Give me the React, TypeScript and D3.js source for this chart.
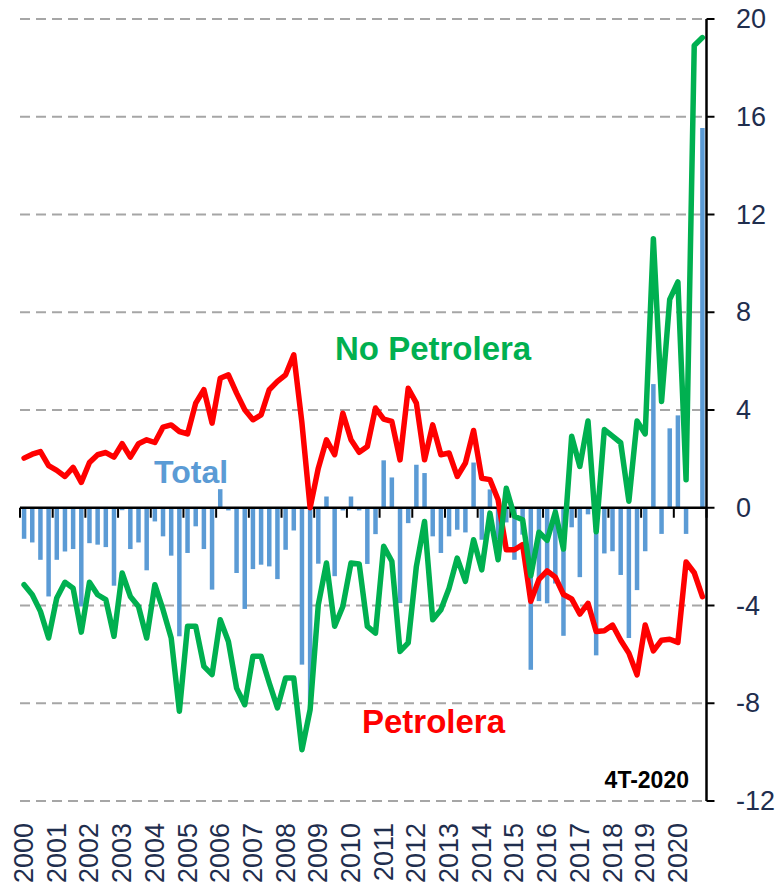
import React from "react";
import * as d3 from "d3";

const years = ["2000","2001","2002","2003","2004","2005","2006","2007","2008","2009","2010","2011","2012","2013","2014","2015","2016","2017","2018","2019","2020"];
const quarterNames = ["T1", "T2", "T3", "T4"];

const total = [
  -1.27, -1.42, -2.13, -3.63, -2.13, -1.79, -1.69, -4.04,
  -1.45, -1.51, -1.61, -3.19, -0.1, -1.69, -1.42, -2.56,
  -0.56, -1.17, -1.96, -5.26, -1.85, -0.76, -1.69, -3.35,
  0.76, -0.11, -2.67, -4.14, -2.51, -2.33, -2.4, -2.92,
  -1.72, -0.93, -6.42, -8.0, -2.29, 0.46, -2.8, -0.11,
  0.46, -0.11, -2.3, -1.08, 1.94, 1.24, -3.9, -0.63,
  1.76, 1.42, -1.17, -1.85, -1.17, -0.9, -1.01, 1.85,
  -1.31, 0.75, -1.3, -0.6, -2.13, -1.1, -6.63, -3.82,
  -3.91, -3.1, -5.24, -0.8, -2.84, -0.27, -6.04, -1.87,
  -1.78, -2.75, -5.33, -3.37, -1.78, 5.06, -1.07, 3.25,
  3.78, -1.07, 0.0, 15.54
];

const petrolera = [
  2.03, 2.19, 2.3, 1.72, 1.53, 1.28, 1.65, 1.04,
  1.85, 2.17, 2.26, 2.07, 2.62, 2.07, 2.62, 2.78,
  2.67, 3.3, 3.39, 3.12, 3.02, 4.28, 4.83, 3.46,
  5.3, 5.44, 4.69, 4.01, 3.6, 3.8, 4.83, 5.17,
  5.44, 6.26, 3.46, 0.0, 1.62, 2.78, 2.17, 3.87,
  2.78, 2.27, 2.51, 4.08, 3.63, 3.53, 1.96, 4.89,
  4.28, 1.96, 3.39, 2.17, 2.24, 1.28, 1.83, 3.16,
  1.21, 1.15, 0.33, -1.72, -1.72, -1.51, -3.83, -2.93,
  -2.58, -2.84, -3.55, -3.73, -4.35, -3.91, -5.06, -5.03,
  -4.8, -5.42, -5.95, -6.84, -4.8, -5.86, -5.42, -5.38,
  -5.51, -2.22, -2.66, -3.64
];

const noPetrolera = [
  -3.15, -3.56, -4.24, -5.33, -3.69, -3.05, -3.29, -5.09,
  -3.05, -3.56, -3.76, -5.26, -2.67, -3.63, -4.04, -5.33,
  -3.15, -4.17, -5.33, -8.33, -4.85, -4.85, -6.49, -6.83,
  -4.58, -5.47, -7.38, -8.06, -6.08, -6.08, -7.17, -8.19,
  -6.97, -6.97, -9.9, -8.26, -3.97, -2.26, -4.85, -4.04,
  -2.26, -2.3, -4.85, -5.13, -1.58, -2.19, -5.88, -5.53,
  -2.4, -0.56, -4.58, -4.17, -3.29, -2.06, -3.01, -1.31,
  -2.54, -0.22, -2.13, 0.8, -0.35, -0.49, -2.78, -1.0,
  -1.33, -0.18, -1.69, 2.93, 1.69, 3.55, -0.98, 3.2,
  2.93, 2.66, 0.27, 3.55, 3.02, 11.01, 4.35, 8.53,
  9.24, 1.15, 18.92, 19.24
];

const yTicks = [-12, -8, -4, 0, 4, 8, 12, 16, 20];

const W = 776;
const H = 891;
const X0 = 20;
const X1 = 706.5;

export default function App() {
  const quarters = years.flatMap((y) => quarterNames.map((q) => y + q));
  const x = d3.scaleBand<string>().domain(quarters).range([X0, X1]).paddingInner(0.45).paddingOuter(0.225);
  const step = x.step();
  const cx = (q: string) => (x(q) as number) + x.bandwidth() / 2;
  const y = d3.scaleLinear().domain([-12, 20]).range([801, 19]);

  const line = d3
    .line<number>()
    .x((_, i) => cx(quarters[i]))
    .y((d) => y(d));

  const blue = "#5B9BD5";
  const red = "#FF0000";
  const green = "#00B050";
  const navy = "#1F2E4E";
  const font = "'Liberation Sans', Arial, sans-serif";

  const yearTicks = d3.range(0, quarters.length + 1, 4).map((i) => X0 + i * step);

  return (
    <svg width={W} height={H} style={{ position: "absolute", left: 0, top: 0, background: "#fff" }}>
      {yTicks.filter((t) => t !== 0).map((t) => (
        <line key={"g" + t} x1={X0} x2={X1} y1={y(t)} y2={y(t)} stroke="#A6A6A6" strokeWidth={2} strokeDasharray="10,6" />
      ))}
      {total.map((v, i) => (
        <rect
          key={"b" + i}
          x={x(quarters[i])}
          width={x.bandwidth()}
          y={Math.min(y(v), y(0))}
          height={Math.abs(y(v) - y(0))}
          fill={blue}
        />
      ))}
      <line x1={X0} x2={X1} y1={y(0)} y2={y(0)} stroke="#000" strokeWidth={2.5} />
      {yearTicks.map((tx, i) => (
        <line key={"xt" + i} x1={tx} x2={tx} y1={y(0)} y2={y(0) + 10} stroke="#000" strokeWidth={2} />
      ))}
      <path d={line(petrolera) || ""} fill="none" stroke={red} strokeWidth={5.5} strokeLinejoin="round" strokeLinecap="round" />
      <path d={line(noPetrolera) || ""} fill="none" stroke={green} strokeWidth={5.5} strokeLinejoin="round" strokeLinecap="round" />
      <line x1={X1} x2={X1} y1={y(20)} y2={y(-12)} stroke="#000" strokeWidth={2.5} />
      {yTicks.map((t) => (
        <g key={"yt" + t}>
          <line x1={X1} x2={X1 + 8} y1={y(t)} y2={y(t)} stroke="#000" strokeWidth={2} />
          <text x={736} y={y(t)} dominantBaseline="central" fontFamily={font} fontSize={27} fill={navy}>
            {t}
          </text>
        </g>
      ))}
      {years.map((yr) => {
        const px = cx(yr + "T1");
        return (
          <text
            key={"yl" + yr}
            transform={`translate(${px},823) rotate(-90)`}
            textAnchor="end"
            dominantBaseline="central"
            fontFamily={font}
            fontSize={27}
            fill={navy}
          >
            {yr}
          </text>
        );
      })}
      <text x={154} y={483} fontFamily={font} fontWeight="bold" fontSize={32} fill={blue}>Total</text>
      <text x={335} y={360} fontFamily={font} fontWeight="bold" fontSize={33} fill={green}>No Petrolera</text>
      <text x={362} y={733} fontFamily={font} fontWeight="bold" fontSize={33} fill={red}>Petrolera</text>
      <text x={689} y={788} textAnchor="end" fontFamily={font} fontWeight="bold" fontSize={23} fill="#000">4T-2020</text>
    </svg>
  );
}
